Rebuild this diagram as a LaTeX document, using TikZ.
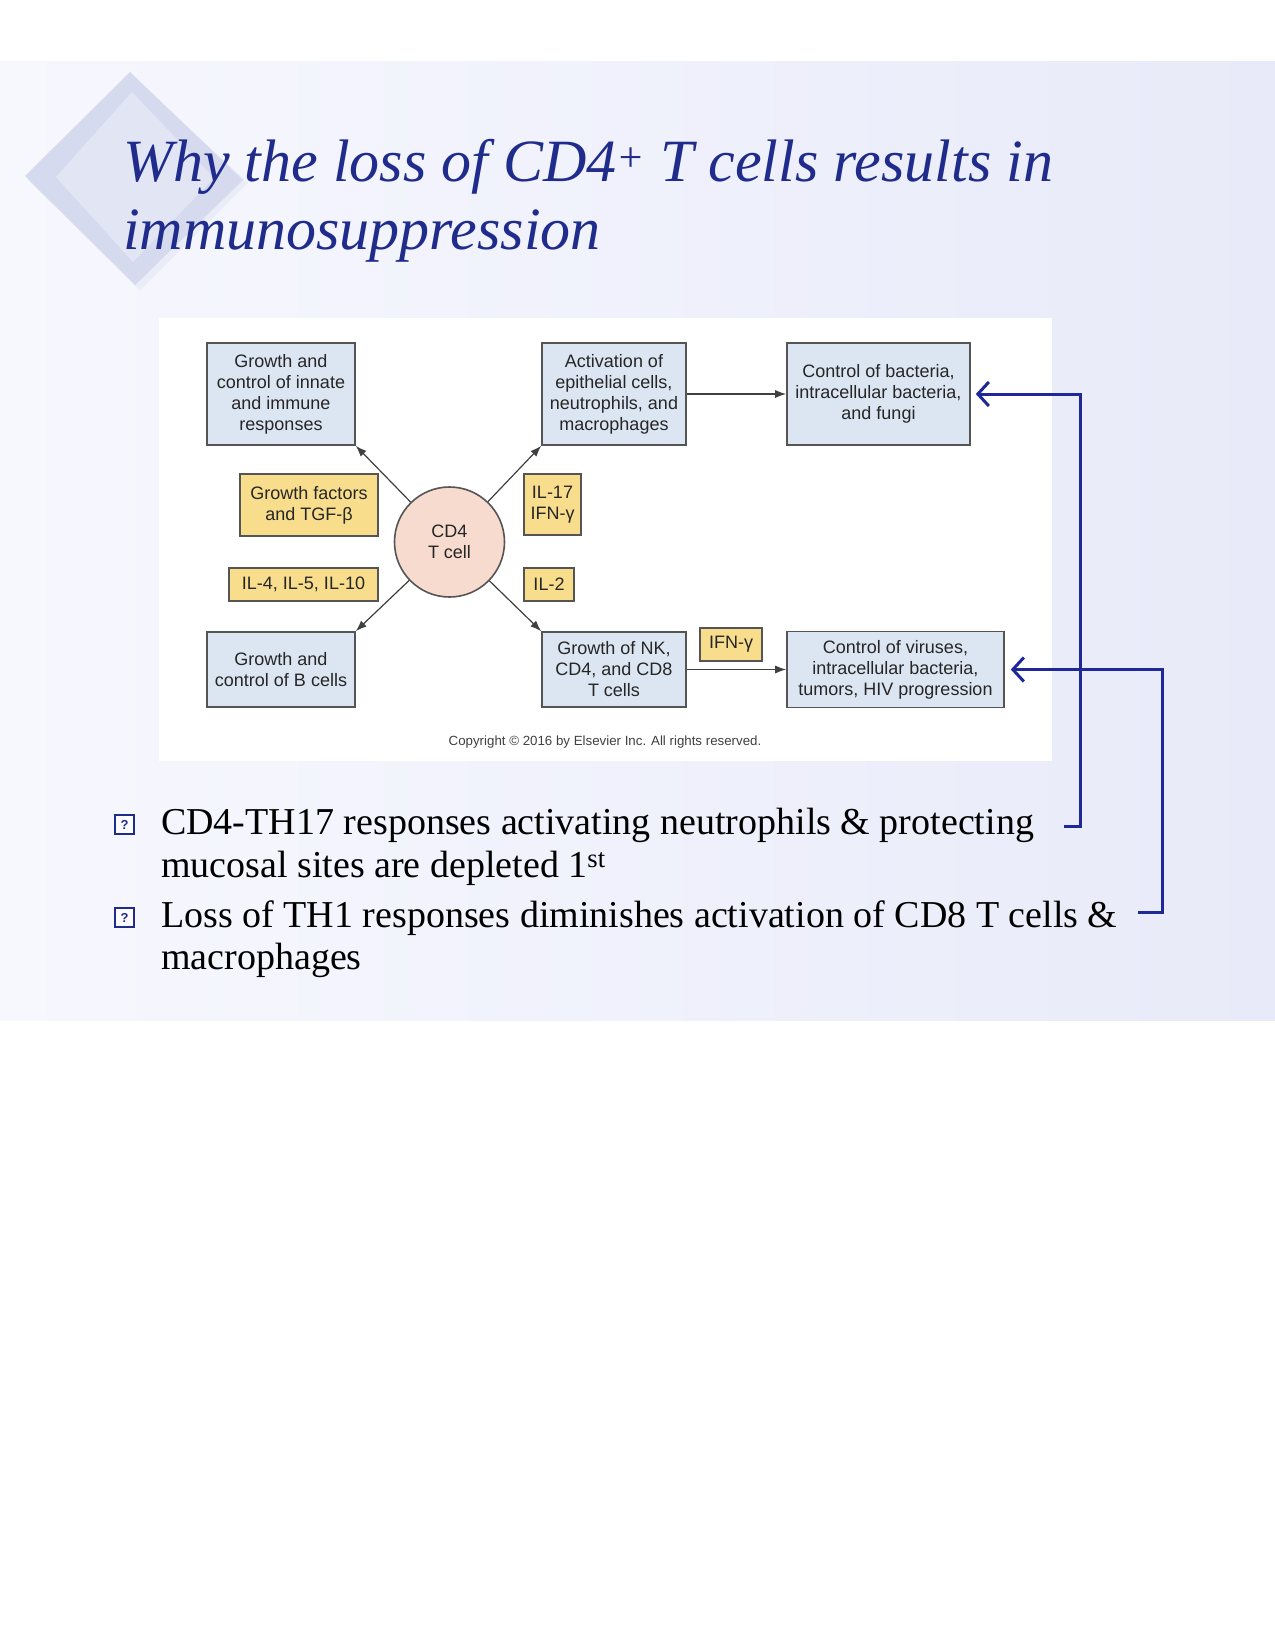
\documentclass[tikz,border=0pt]{standalone}
\usepackage{fontspec}
\setmainfont{Liberation Serif}
\newfontfamily\arial{Liberation Sans}
\usetikzlibrary{arrows.meta}
\definecolor{bgl}{RGB}{247,248,254}
\definecolor{bgr}{RGB}{232,234,249}
\definecolor{boxblue}{RGB}{220,230,242}
\definecolor{boxyel}{RGB}{247,221,140}
\definecolor{peach}{RGB}{247,219,207}
\definecolor{edgegray}{RGB}{85,85,85}
\definecolor{titleblue}{RGB}{32,44,140}
\definecolor{linkblue}{RGB}{30,40,150}
\definecolor{dmA}{RGB}{214,218,238}
\definecolor{dmB}{RGB}{226,229,244}
\definecolor{dmC}{RGB}{234,236,248}
\begin{document}
\begin{tikzpicture}[x=1pt,y=-1pt,
  dtext/.style={font=\arial\fontsize{18}{21}\selectfont, align=center, text=black!85, inner sep=0pt},
  bluebox/.style={dtext, draw=edgegray, line width=1.6pt, fill=boxblue},
  yelbox/.style={dtext, draw=edgegray, line width=1.6pt, fill=boxyel},
  darr/.style={draw=black!75, line width=1.2pt, -{Latex[length=11pt,width=8pt]}},
  barr/.style={draw=linkblue, line width=3pt, -{Straight Barb[length=11pt,width=24pt]}},
  btext/.style={anchor=base west, inner sep=0pt, font=\fontsize{38}{43}\selectfont, text=black},
  bullbox/.style={draw=titleblue, line width=1.4pt, minimum size=19pt, inner sep=0pt, fill=white!60!bgl, text=titleblue, font=\arial\bfseries\fontsize{13}{13}\selectfont},
  ttext/.style={anchor=base west, inner sep=0pt, text=titleblue, font=\fontsize{60}{68}\selectfont\itshape}
]
\useasboundingbox (0,0) rectangle (1275,1650);
\fill[white] (0,0) rectangle (1275,1650);
\shade[left color=bgl, right color=bgr] (0,61) rectangle (1275,1020);

% decorative diamond
\fill[dmC] (132,76) -- (248,183) -- (140,290) -- (28,180) -- cycle;
\fill[dmA] (130,72) -- (243,180) -- (135,285) -- (25,176) -- cycle;
\fill[dmB] (132,92) -- (214,178) -- (133,262) -- (56,177) -- cycle;

% title
\node[ttext] (t1) at (123,181) {Why the loss of CD4\textsuperscript{+} T cells results in};
\node[ttext] (t2) at (123,249) {immunosuppression};

% figure panel
\fill[white] (159,318) rectangle (1052,761);

\node[bluebox, minimum width=148pt, minimum height=102pt] (A) at (281,394) {Growth and\\control of innate\\and immune\\responses};
\node[bluebox, minimum width=144pt, minimum height=102pt] (B) at (614,394) {Activation of\\epithelial cells,\\neutrophils, and\\macrophages};
\node[bluebox, minimum width=183pt, minimum height=102pt] (E) at (878.5,394) {Control of bacteria,\\intracellular bacteria,\\and fungi};
\node[bluebox, minimum width=148pt, minimum height=75pt] (C) at (281,669.5) {Growth and\\control of B cells};
\node[bluebox, minimum width=144pt, minimum height=75pt] (D) at (614,669.5) {Growth of NK,\\CD4, and CD8\\T cells};
\node[bluebox, minimum width=217pt, minimum height=76pt] (F) at (895.5,669.5) {Control of viruses,\\intracellular bacteria,\\tumors, HIV progression};

\node[yelbox, minimum width=138pt, minimum height=62pt] (GF) at (309,505) {Growth factors\\and TGF-β};
\node[yelbox, minimum width=57pt, minimum height=61pt] (IL17) at (552.5,504.5) {IL-17\\IFN-γ};
\node[yelbox, minimum width=149pt, minimum height=33pt] (IL4) at (303.5,584.5) {IL-4, IL-5, IL-10};
\node[yelbox, minimum width=50pt, minimum height=33pt] (IL2) at (549,584.5) {IL-2};
\node[yelbox, minimum width=62pt, minimum height=33pt] (IFN) at (731,644.5) {IFN-γ};

\node[dtext, circle, draw=edgegray, line width=1.6pt, fill=peach, minimum size=110pt] (cd4) at (449.5,542) {CD4\\T cell};

\draw[darr] (cd4) -- (A.south east);
\draw[darr] (cd4) -- (B.south west);
\draw[darr] (cd4) -- (C.north east);
\draw[darr] (cd4) -- (D.north west);
\draw[darr] (B.east) -- (E.west);
\draw[darr] (D.east) -- (D.east -| F.west);

\node[font=\arial\fontsize{13.3}{13.3}\selectfont, text=black!75, inner sep=0pt] (copy) at (605,742) {Copyright © 2016 by Elsevier Inc. All rights reserved.};

% bullets
\node[bullbox] (q1) at (124.5,824.5) {?};
\node[bullbox] (q2) at (124.5,917.5) {?};
\node[btext] (l1) at (161,834) {CD4-TH17 responses activating neutrophils \& protecting};
\node[btext] (l2) at (161,877) {mucosal sites are depleted 1\textsuperscript{st}};
\node[btext] (l3) at (161,927) {Loss of TH1 responses diminishes activation of CD8 T cells \&};
\node[btext] (l4) at (161,969) {macrophages};

% blue connectors
\coordinate (s1) at (1064,826);
\coordinate (k1) at (1080,826);
\coordinate (s2) at (1138,912);
\coordinate (k2) at (1162,912);
\draw[barr] (s1) -- (k1) |- ([xshift=5pt]E.east);
\draw[barr] (s2) -- (k2) |- ([xshift=6pt]F.east);
\end{tikzpicture}
\end{document}
